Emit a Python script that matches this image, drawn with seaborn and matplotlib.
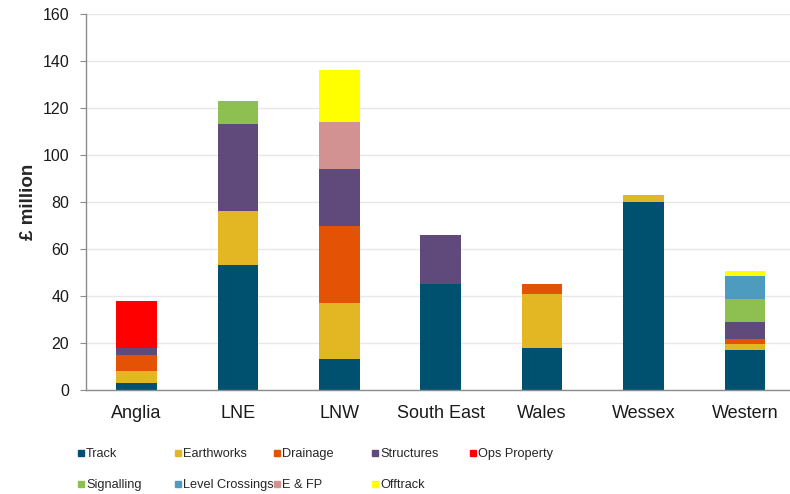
import numpy as np
import matplotlib
matplotlib.use('Agg')
import matplotlib.pyplot as plt
from matplotlib.lines import Line2D
import seaborn as sns

regions = ['Anglia', 'LNE', 'LNW', 'South East', 'Wales', 'Wessex', 'Western']

components = ['Track', 'Earthworks', 'Drainage', 'Structures', 'Ops Property',
              'Signalling', 'Level Crossings', 'E & FP', 'Offtrack']

track = [3, 53, 13, 45, 18, 80, 17]
earthworks = [5, 23, 24, 0, 23, 3, 2.7]
drainage = [7, 0, 33, 0, 4, 0, 2]
structures = [3, 37, 24, 21, 0, 0, 7.4]
ops_property = [20, 0, 0, 0, 0, 0, 0]
signalling = [0, 10, 0, 0, 0, 0, 9.6]
level_crossings = [0, 0, 0, 0, 0, 0, 10]
e_fp = [0, 0, 20, 0, 0, 0, 0]
offtrack = [0, 0, 22, 0, 0, 0, 2]

colours = ['#00506F', '#E3B623', '#E35205', '#604A7B', '#FF0000',
           '#8DC050', '#4E9BC0', '#D39292', '#FFFF00']

series = [track, earthworks, drainage, structures, ops_property,
          signalling, level_crossings, e_fp, offtrack]

sns.set_style('white')
plt.rcParams['font.family'] = ['Liberation Sans', 'DejaVu Sans']

fig = plt.figure(figsize=(7.9, 4.94), dpi=100)
ax = fig.add_axes([0.1086, 0.2105, 0.8986, 0.7611])

# stacked bars, bottom to top
bottom = np.zeros(len(regions))
for name, vals, col in zip(components, series, colours):
    sns.barplot(x=regions, y=vals, order=regions, bottom=bottom, color=col,
                width=0.4, saturation=1, linewidth=0, errorbar=None, ax=ax)
    bottom = bottom + np.array(vals)

ax.set_xlim(-0.5, 6.5)
ax.set_ylim(0, 160)
ax.set_yticks(range(0, 161, 20))
ax.yaxis.grid(True, color='#E8E8E8', linewidth=1)
ax.set_axisbelow(True)

for side in ['top', 'right']:
    ax.spines[side].set_visible(False)
for side in ['left', 'bottom']:
    ax.spines[side].set_color('#8C8C8C')
    ax.spines[side].set_linewidth(1)

ax.set_xticks(np.arange(-0.5, 7, 1), minor=True)
ax.tick_params(axis='x', which='major', length=0, pad=11, labelsize=13, labelcolor='#1A1A1A')
ax.tick_params(axis='x', which='minor', length=4, color='#8C8C8C', direction='out')
ax.tick_params(axis='y', length=4, color='#8C8C8C', direction='out', pad=8,
               labelsize=11.5, labelcolor='#1A1A1A', left=True)
ax.set_xlabel('')
ax.set_ylabel('£ million', fontsize=13.5, fontweight='bold', labelpad=4)

# legend laid out in even columns like the original
handles = [Line2D([], [], marker='s', linestyle='', markersize=5,
                  markerfacecolor=c, markeredgecolor=c) for c in colours]
col_x = [77, 174, 273, 371, 469]
for i, x in enumerate(col_x):
    idx = [i] if i + 5 >= len(components) else [i, i + 5]
    fig.legend([handles[j] for j in idx], [components[j] for j in idx],
               loc='upper left', bbox_to_anchor=(x / 790, 1 - 448 / 494),
               frameon=False, handlelength=0.6, handletextpad=0.12,
               labelspacing=1.5, borderpad=0, borderaxespad=0,
               prop={'family': 'Liberation Sans', 'size': 9.2})

fig.savefig('out.png', dpi=100)
